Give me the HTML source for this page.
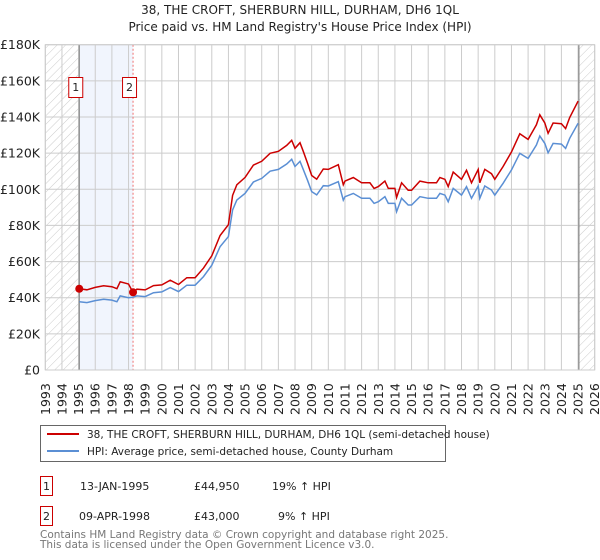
<!DOCTYPE html>
<html><head><meta charset="utf-8"><style>
body{margin:0;background:#fff;font-family:"DejaVu Sans","Liberation Sans",sans-serif;}
svg{display:block}
</style></head><body>
<svg id="chart" width="600" height="560" font-family="DejaVu Sans, Liberation Sans, sans-serif">
<defs>
<pattern id="hatch" width="6" height="6" patternUnits="userSpaceOnUse" patternTransform="rotate(45)">
<line x1="0" y1="0" x2="0" y2="6" stroke="#ccc" stroke-width="1"/>
</pattern>
</defs>
<text x="300" y="14" text-anchor="middle" font-size="12" fill="#222">38, THE CROFT, SHERBURN HILL, DURHAM, DH6 1QL</text>
<text x="300" y="31" text-anchor="middle" font-size="12" fill="#222">Price paid vs. HM Land Registry's House Price Index (HPI)</text>
<g id="plot"></g>
<g>
<rect x="40.5" y="425.5" width="405" height="36" fill="#fff" stroke="#666"/>
<line x1="47" y1="434" x2="79" y2="434" stroke="#cc0000" stroke-width="2"/>
<text x="87" y="438" font-size="10.5" fill="#222">38, THE CROFT, SHERBURN HILL, DURHAM, DH6 1QL (semi-detached house)</text>
<line x1="47" y1="451" x2="79" y2="451" stroke="#5b8fd4" stroke-width="2"/>
<text x="87" y="455" font-size="10.5" fill="#222">HPI: Average price, semi-detached house, County Durham</text>
</g>
<g font-size="11" fill="#222">
<rect x="40.5" y="476.5" width="12" height="19" fill="#fff" stroke="#cc0000"/>
<text x="46.5" y="490" text-anchor="middle">1</text>
<text x="80" y="490">13-JAN-1995</text>
<text x="194" y="490">£44,950</text>
<text x="272" y="490">19% ↑ HPI</text>
<rect x="40.5" y="506.5" width="12" height="19" fill="#fff" stroke="#cc0000"/>
<text x="46.5" y="520" text-anchor="middle">2</text>
<text x="79" y="520">09-APR-1998</text>
<text x="194" y="520">£43,000</text>
<text x="278" y="520">9% ↑ HPI</text>
</g>
<text x="40" y="538" font-size="10.5" fill="#777">Contains HM Land Registry data © Crown copyright and database right 2025.</text>
<text x="40" y="548" font-size="10.5" fill="#777">This data is licensed under the Open Government Licence v3.0.</text>
</svg>
<script>
const dates=[1995.04,1995.5,1996,1996.5,1997,1997.3,1997.5,1998,1998.27,1998.5,1999,1999.5,2000,2000.5,2001,2001.5,2002,2002.5,2003,2003.5,2004,2004.25,2004.5,2005,2005.5,2006,2006.5,2007,2007.5,2007.8,2008,2008.3,2008.5,2008.75,2009,2009.3,2009.7,2010,2010.6,2010.9,2011,2011.5,2012,2012.5,2012.75,2013,2013.4,2013.6,2014,2014.1,2014.4,2014.8,2015,2015.5,2016,2016.5,2016.7,2017,2017.2,2017.5,2018,2018.3,2018.6,2019,2019.1,2019.4,2019.8,2020,2020.5,2021,2021.5,2022,2022.5,2022.7,2023,2023.2,2023.5,2024,2024.25,2024.5,2025];
const hpiValues=[37.8,37.3,38.4,39.2,38.7,37.8,41,40,40.3,41,40.6,42.8,43.2,45.6,43.4,46.9,46.9,51.7,58,68.3,73.8,88.6,94,97.8,104,106,110,111,114,116.6,112.6,115.4,110.8,105,98.7,96.9,102,101.8,104.2,94,95.9,97.7,95,95,92.2,93.1,95.9,92.2,92.2,87.6,95,91.3,91.3,95.9,95,95,97.7,96.8,93.1,100.5,96.8,101.4,95,101.8,95,101.8,99.6,96.8,103.3,110.7,119.9,117.1,124.5,129.5,125.4,120.2,125.4,125,122.6,128.2,136.5];
const propertyValues=[45.0,44.4,45.7,46.6,46.1,45.0,48.8,47.6,43.0,44.7,44.3,46.7,47.1,49.7,47.3,51.1,51.1,56.4,63.2,74.4,80.4,96.6,102.5,106.6,113.4,115.5,119.9,121,124.3,127.1,122.7,125.8,120.8,114.5,107.6,105.6,111.2,111,113.6,102.5,104.5,106.5,103.6,103.6,100.5,101.5,104.5,100.5,100.5,95.5,103.6,99.5,99.5,104.5,103.6,103.6,106.5,105.5,101.5,109.5,105.5,110.5,103.6,111,103.6,111,108.6,105.5,112.6,120.7,130.7,127.6,135.7,141.2,136.7,131,136.7,136.3,133.6,139.7,148.8];
const saleDates=[1995.04,1998.27];
const salePrices=[44.95,43.0];
const saleLabels=["1","2"];
const yTicks=[0,20,40,60,80,100,120,140,160,180];
const yTickLabels=["£0","£20K","£40K","£60K","£80K","£100K","£120K","£140K","£160K","£180K"];
const xYears=[1993,1994,1995,1996,1997,1998,1999,2000,2001,2002,2003,2004,2005,2006,2007,2008,2009,2010,2011,2012,2013,2014,2015,2016,2017,2018,2019,2020,2021,2022,2023,2024,2025,2026];
const dataEnd=2025.05;

const L=45.3,R=594.7,T=44.7,B=370;
const x=v=>L+(v-1993)/(2026-1993)*(R-L);
const y=v=>B-v/180*(B-T);
const NS="http://www.w3.org/2000/svg";
const g=document.getElementById('plot');
function mk(tag,attrs){const e=document.createElementNS(NS,tag);for(const k in attrs)e.setAttribute(k,attrs[k]);g.appendChild(e);return e;}

let e=mk('rect',{x:x(1993),y:T,width:x(saleDates[0])-x(1993),height:B-T,fill:'url(#hatch)'});


e=mk('rect',{x:x(dataEnd),y:T,width:x(2026)-x(dataEnd),height:B-T,fill:'url(#hatch)'});


e=mk('rect',{x:x(saleDates[0]),y:T,width:x(saleDates[1])-x(saleDates[0]),height:B-T,fill:'#eef3fc',opacity:0.8});



xYears.forEach(v=>{
  const l=mk('line',{x1:x(v),x2:x(v),y1:T,y2:B,stroke:'#ccc','stroke-width':1});
  
  
  const t=mk('text',{transform:`translate(${x(v)+4.5},${B+45}) rotate(-90)`,'font-size':12.5,fill:'#222'});
  t.textContent=v;
  
  
});
yTicks.forEach((v,i)=>{
  const l=mk('line',{x1:L,x2:R,y1:y(v),y2:y(v),stroke:'#ccc','stroke-width':1});
  
  
  const t=mk('text',{x:40,y:y(v)+4.5,'text-anchor':'end','font-size':12.5,fill:'#222'});
  t.textContent=yTickLabels[i];
  
  
});
e=mk('line',{x1:x(saleDates[0]),x2:x(saleDates[0]),y1:T,y2:B,stroke:'#888','stroke-width':1.2});


e=mk('line',{x1:x(saleDates[1]),x2:x(saleDates[1]),y1:T,y2:B,stroke:'#f07070','stroke-width':1,'stroke-dasharray':'2,2'});


e=mk('line',{x1:x(dataEnd),x2:x(dataEnd),y1:T,y2:B,stroke:'#888','stroke-width':1.2});



const pts=a=>a.map((v,i)=>x(dates[i]).toFixed(1)+','+y(v).toFixed(1)).join(' ');
e=mk('polyline',{points:pts(hpiValues),fill:'none',stroke:'#5b8fd4','stroke-width':1.5});


e=mk('polyline',{points:pts(propertyValues),fill:'none',stroke:'#cc0000','stroke-width':1.5});



saleDates.forEach((d,i)=>{
  const c=mk('circle',{cx:x(d),cy:y(salePrices[i]),r:4,fill:'#cc0000'});
  
  
  const bx=x(d)-10.5;
  const r=mk('rect',{x:bx,y:77.5,width:14,height:20,fill:'#fff',stroke:'#cc0000'});
  
  
  const t=mk('text',{x:bx+7,y:91,'text-anchor':'middle','font-size':11,fill:'#222'});
  t.textContent=saleLabels[i];
  
  
});
e=mk('rect',{x:L,y:T,width:R-L,height:B-T,fill:'none',stroke:'#ccc'});


</script>
</body></html>
